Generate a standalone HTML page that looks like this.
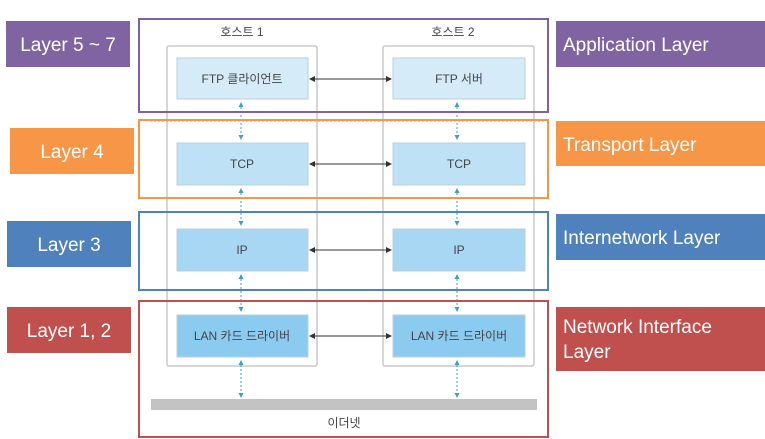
<!DOCTYPE html>
<html><head><meta charset="utf-8"><style>
html,body{margin:0;padding:0;background:#fff;}
svg{display:block}
text{font-family:"Liberation Sans","Noto Sans CJK KR",sans-serif}
</style></head><body>
<svg width="765" height="439" viewBox="0 0 765 439" xmlns="http://www.w3.org/2000/svg">
<defs>
<marker id="a" markerWidth="6" markerHeight="6" refX="5" refY="3" orient="auto-start-reverse" markerUnits="userSpaceOnUse"><path d="M0,0 L6,3 L0,6z" fill="#333"/></marker>
<marker id="b" markerWidth="5" markerHeight="5" refX="4" refY="2.5" orient="auto-start-reverse" markerUnits="userSpaceOnUse"><path d="M0,0 L5,2.5 L0,5z" fill="#3aa0d0"/></marker>
</defs>
<rect x="6" y="21" width="124" height="46" fill="#8064a2"/>
<text x="68" y="51" font-size="19" fill="#fff" text-anchor="middle">Layer 5 ~ 7</text>
<rect x="10" y="128" width="124" height="46" fill="#f79646"/>
<text x="72" y="158" font-size="19" fill="#fff" text-anchor="middle">Layer 4</text>
<rect x="7" y="221" width="124" height="46" fill="#4f81bd"/>
<text x="69" y="251" font-size="19" fill="#fff" text-anchor="middle">Layer 3</text>
<rect x="7" y="307" width="124" height="46" fill="#c0504d"/>
<text x="69" y="337" font-size="19" fill="#fff" text-anchor="middle">Layer 1, 2</text>
<rect x="556" y="21" width="209" height="46" fill="#8064a2"/>
<text x="563" y="51" font-size="19" fill="#fff">Application Layer</text>
<rect x="556" y="121" width="209" height="45" fill="#f79646"/>
<text x="563" y="151" font-size="19" fill="#fff">Transport Layer</text>
<rect x="556" y="214" width="209" height="46" fill="#4f81bd"/>
<text x="563" y="244" font-size="19" fill="#fff">Internetwork Layer</text>
<rect x="556" y="307" width="209" height="64" fill="#c0504d"/>
<text x="563" y="333" font-size="19" fill="#fff">Network Interface</text>
<text x="563" y="358" font-size="19" fill="#fff">Layer</text>
<rect x="167" y="46" width="150" height="320" fill="#fff" stroke="#c8c8c8" stroke-width="1.5" rx="2"/>
<rect x="383" y="46" width="151" height="320" fill="#fff" stroke="#c8c8c8" stroke-width="1.5" rx="2"/>
<text x="242" y="36" font-size="12" fill="#444" text-anchor="middle">호스트 1</text>
<text x="453" y="36" font-size="12" fill="#444" text-anchor="middle">호스트 2</text>
<line x1="150" y1="121" x2="545" y2="121" stroke="#aaa" stroke-dasharray="2,2"/>
<g stroke="#3aa0d0" stroke-width="1" stroke-dasharray="2,2" fill="none">
<line x1="241" y1="103" x2="241" y2="139" marker-start="url(#b)" marker-end="url(#b)"/>
<line x1="241" y1="189" x2="241" y2="225" marker-start="url(#b)" marker-end="url(#b)"/>
<line x1="241" y1="275" x2="241" y2="311" marker-start="url(#b)" marker-end="url(#b)"/>
<line x1="241" y1="361" x2="241" y2="397" marker-start="url(#b)" marker-end="url(#b)"/>
<line x1="457" y1="103" x2="457" y2="139" marker-start="url(#b)" marker-end="url(#b)"/>
<line x1="457" y1="189" x2="457" y2="225" marker-start="url(#b)" marker-end="url(#b)"/>
<line x1="457" y1="275" x2="457" y2="311" marker-start="url(#b)" marker-end="url(#b)"/>
<line x1="457" y1="361" x2="457" y2="397" marker-start="url(#b)" marker-end="url(#b)"/>
</g>
<g stroke="#b8cfe0" stroke-width="1">
<rect x="177" y="58" width="131" height="41" fill="#d6ebf8"/>
<rect x="393" y="58" width="132" height="41" fill="#d6ebf8"/>
<rect x="177" y="143" width="131" height="42" fill="#bfe1f5"/>
<rect x="393" y="143" width="132" height="42" fill="#bfe1f5"/>
<rect x="177" y="229" width="131" height="42" fill="#a8d7f3"/>
<rect x="393" y="229" width="132" height="42" fill="#a8d7f3"/>
<rect x="177" y="315" width="131" height="42" fill="#8ccbf0"/>
<rect x="393" y="315" width="132" height="42" fill="#8ccbf0"/>
</g>
<g font-size="12" fill="#444" text-anchor="middle">
<text x="242" y="83">FTP 클라이언트</text>
<text x="459" y="83">FTP 서버</text>
<text x="242" y="168">TCP</text>
<text x="459" y="168">TCP</text>
<text x="242" y="254">IP</text>
<text x="459" y="254">IP</text>
<text x="242" y="340">LAN 카드 드라이버</text>
<text x="459" y="340">LAN 카드 드라이버</text>
</g>
<g stroke="#333" stroke-width="1">
<line x1="310" y1="79" x2="391" y2="79" marker-start="url(#a)" marker-end="url(#a)"/>
<line x1="310" y1="164" x2="391" y2="164" marker-start="url(#a)" marker-end="url(#a)"/>
<line x1="310" y1="250" x2="391" y2="250" marker-start="url(#a)" marker-end="url(#a)"/>
<line x1="310" y1="336" x2="391" y2="336" marker-start="url(#a)" marker-end="url(#a)"/>
</g>
<rect x="151" y="399" width="386" height="11" fill="#c3c3c3"/>
<text x="344" y="427" font-size="12" fill="#444" text-anchor="middle">이더넷</text>
<rect x="139" y="19" width="409" height="93" fill="none" stroke="#7f5fa5" stroke-width="2"/>
<rect x="139" y="120" width="409" height="78" fill="none" stroke="#f79646" stroke-width="2"/>
<rect x="139" y="212" width="409" height="78" fill="none" stroke="#4f81bd" stroke-width="2"/>
<rect x="139" y="301" width="409" height="136" fill="none" stroke="#c0504d" stroke-width="2"/>
</svg>
</body></html>
